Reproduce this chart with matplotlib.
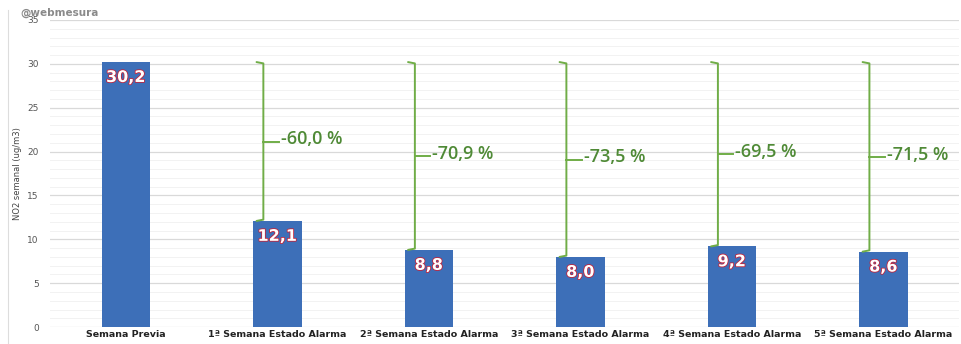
import matplotlib.pyplot as plt
import matplotlib.patheffects as pe
from matplotlib.lines import Line2D
import numpy as np

categories = ["Semana Previa", "1ª Semana Estado Alarma", "2ª Semana Estado Alarma",
              "3ª Semana Estado Alarma", "4ª Semana Estado Alarma", "5ª Semana Estado Alarma"]
values = [30.2, 12.1, 8.8, 8.0, 9.2, 8.6]
value_labels = ["30,2", "12,1", "8,8", "8,0", "9,2", "8,6"]
pct_labels = ["-60,0 %", "-70,9 %", "-73,5 %", "-69,5 %", "-71,5 %"]

BAR = "#3d6fb8"
BRACE = "#70ad47"
PCT = "#4f8a36"

fig = plt.figure(figsize=(9.62, 3.44), dpi=100)
ax = fig.add_axes([0.052, 0.049, 0.945, 0.893])

x = np.arange(len(categories))
ax.bar(x, values, width=0.32, color=BAR, zorder=3)

ax.set_xlim(-0.5, len(categories) - 0.5)
ax.set_ylim(0, 35)
ax.set_yticks(np.arange(0, 36, 5))
ax.set_yticks(np.arange(0, 36, 1), minor=True)
ax.grid(axis="y", which="major", color="#d9d9d9", lw=0.9, zorder=0)
ax.grid(axis="y", which="minor", color="#f2f2f2", lw=0.7, zorder=0)
ax.tick_params(axis="both", which="both", length=0, colors="#555555")
ax.tick_params(axis="y", labelsize=6.5, pad=8)
ax.set_xticks(x)
ax.set_xticklabels(categories, fontsize=6.8, fontweight="bold", color="#222222")
ax.tick_params(axis="x", pad=2)
for s in ax.spines.values():
    s.set_visible(False)
ax.set_ylabel("NO2 semanal (ug/m3)", fontsize=6, color="#444444")
ax.yaxis.set_label_coords(-0.031, 0.5)

# value labels inside bars
for xi, v, lab in zip(x, values, value_labels):
    ax.text(xi, v - 0.9, lab, ha="center", va="top", fontsize=11.5, fontweight="bold",
            color="white", zorder=5,
            path_effects=[pe.withStroke(linewidth=1.2, foreground="#c0243c")])

# braces showing reduction vs first week
top = values[0]
for xi, v, lab in zip(x[1:], values[1:], pct_labels):
    bx = xi - 0.092
    hook = 0.045
    mid = (top + v) / 2
    ax.plot([bx - hook, bx, bx, bx - hook], [top, top - 0.15, v + 0.15, v],
            color=BRACE, lw=1.4, zorder=4, solid_capstyle="round")
    ax.plot([bx, bx + 0.1], [mid, mid], color=BRACE, lw=1.4, zorder=4)
    ax.text(bx + 0.115, mid + 0.25, lab, ha="left", va="center", fontsize=13,
            color=PCT, zorder=5, family=["Open Sans", "DejaVu Sans"], fontweight="semibold")

fig.text(0.021, 0.962, "@webmesura", fontsize=7.5, fontweight="bold", color="#8a8a8a",
         ha="left", va="center")
fig.add_artist(Line2D([0.008, 0.008], [0.0, 0.97], transform=fig.transFigure,
                      color="#dddddd", lw=0.8))

fig.savefig("out.png", dpi=100)
